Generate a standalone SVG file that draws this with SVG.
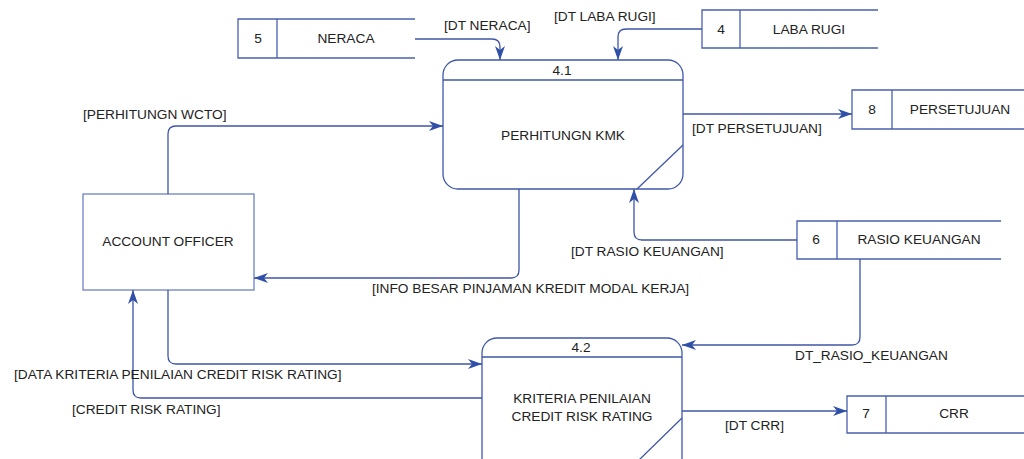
<svg xmlns="http://www.w3.org/2000/svg" width="1024" height="459" viewBox="0 0 1024 459">
  <style>
    text { font-family: "Liberation Sans", Arial, sans-serif; font-size: 13.7px; fill: #222; }
    .mid { text-anchor: middle; }
    .box { fill: #fff; stroke: #6E82C4; stroke-width: 1.3; }
    .store { fill: none; stroke: #4A60AE; stroke-width: 1.3; }
    .proc { fill: #fff; stroke: #4058A8; stroke-width: 1.3; }
    .flow { fill: none; stroke: #3F56A6; stroke-width: 1.3; marker-end: url(#arrow); }
  </style>
  <defs>
    <marker id="arrow" markerUnits="userSpaceOnUse" markerWidth="16" markerHeight="12" refX="14" refY="5" orient="auto">
      <path d="M0,0 L14,5 L0,10 L4,5 Z" fill="#3050A8"/>
    </marker>
  </defs>
  <rect width="1024" height="459" fill="#fff"/>

  <!-- data stores -->
  <g id="store5">
    <path class="store" d="M415,19 H238 V58 H415 M277,19 V58"/>
    <text class="mid" x="258" y="43">5</text>
    <text class="mid" x="346" y="43">NERACA</text>
  </g>
  <g id="store4">
    <path class="store" d="M878,10 H702 V48 H878 M740,10 V48"/>
    <text class="mid" x="721" y="34">4</text>
    <text class="mid" x="809" y="34">LABA RUGI</text>
  </g>
  <g id="store8">
    <path class="store" d="M1030,90 H852 V129 H1030 M892,90 V129"/>
    <text class="mid" x="872" y="114">8</text>
    <text class="mid" x="960" y="114">PERSETUJUAN</text>
  </g>
  <g id="store6">
    <path class="store" d="M1001,221 H797 V259 H1001 M837,221 V259"/>
    <text class="mid" x="816" y="244">6</text>
    <text class="mid" x="919" y="244">RASIO KEUANGAN</text>
  </g>
  <g id="store7">
    <path class="store" d="M1030,396 H847 V433 H1030 M886,396 V433"/>
    <text class="mid" x="866" y="418">7</text>
    <text class="mid" x="954" y="418">CRR</text>
  </g>

  <!-- external entity -->
  <g id="account-officer">
    <rect class="box" x="83" y="194" width="171" height="96"/>
    <text class="mid" x="168" y="246">ACCOUNT OFFICER</text>
  </g>

  <!-- processes -->
  <g id="proc41">
    <rect class="proc" x="443" y="60" width="240" height="129" rx="15" ry="15"/>
    <path class="proc" d="M443,80 H683 M683,145 L637,189"/>
    <text class="mid" x="562" y="75">4.1</text>
    <text class="mid" x="563" y="140">PERHITUNGN KMK</text>
  </g>
  <g id="proc42">
    <rect class="proc" x="482" y="338" width="200" height="140" rx="15" ry="15"/>
    <path class="proc" d="M482,357 H682 M682,418 L638,461"/>
    <text class="mid" x="581" y="352">4.2</text>
    <text class="mid" x="582" y="403">KRITERIA PENILAIAN</text>
    <text class="mid" x="582" y="421">CREDIT RISK RATING</text>
  </g>

  <!-- data flows -->
  <g id="flows">
    <path class="flow" d="M415,39 H492 Q500,39 500,47 V60"/>
    <path class="flow" d="M702,29 H626 Q618,29 618,37 V60"/>
    <path class="flow" d="M168,194 V134 Q168,126 176,126 H443"/>
    <path class="flow" d="M683,114 H852"/>
    <path class="flow" d="M519,189 V270 Q519,278 511,278 H254"/>
    <path class="flow" d="M797,240 H642 Q634,240 634,232 V189"/>
    <path class="flow" d="M860,259 V337 Q860,345 852,345 H682"/>
    <path class="flow" d="M168,290 V356 Q168,364 176,364 H482"/>
    <path class="flow" d="M482,398 H141 Q133,398 133,390 V290"/>
    <path class="flow" d="M682,411 H847"/>
  </g>

  <!-- flow labels -->
  <g id="flow-labels">
    <text x="444" y="30">[DT NERACA]</text>
    <text x="554" y="21">[DT LABA RUGI]</text>
    <text x="83" y="119">[PERHITUNGN WCTO]</text>
    <text x="692" y="133">[DT PERSETUJUAN]</text>
    <text x="372" y="293">[INFO BESAR PINJAMAN KREDIT MODAL KERJA]</text>
    <text x="571" y="256">[DT RASIO KEUANGAN]</text>
    <text x="795" y="360">DT_RASIO_KEUANGAN</text>
    <text x="14" y="379">[DATA KRITERIA PENILAIAN CREDIT RISK RATING]</text>
    <text x="72" y="414">[CREDIT RISK RATING]</text>
    <text x="725" y="430">[DT CRR]</text>
  </g>
</svg>
